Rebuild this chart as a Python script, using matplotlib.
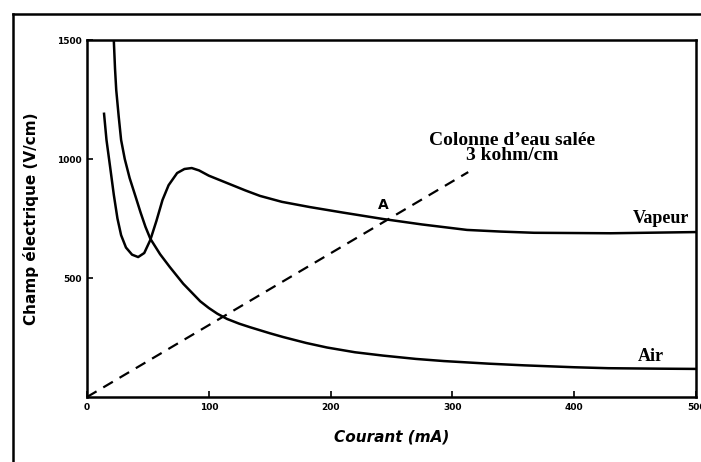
import matplotlib
matplotlib.use("Agg")
import matplotlib.pyplot as plt
from matplotlib.lines import Line2D

# Data
air_I = [22, 23, 24, 26, 28, 31, 35, 40, 44, 48, 52, 60, 68, 79, 93, 100, 107, 115, 125, 134,
         150, 161, 180, 197, 220, 243, 270, 293, 330, 359, 400, 428, 470, 500]
air_E = [1500, 1380, 1290, 1180, 1080, 1000, 920, 840, 775, 715, 665, 600, 546, 476, 402,
         374, 350, 328, 308, 293, 268, 252, 227, 208, 188, 174, 160, 151, 140, 133, 125, 121,
         119, 118]

vap_I = [14, 16, 19, 22, 25, 28, 32, 37, 42, 47, 52, 57, 62, 67, 74, 80, 86, 92, 100, 115,
         130, 142, 160, 183, 210, 243, 275, 312, 340, 367, 430, 500]
vap_E = [1190, 1080, 966, 850, 750, 680, 628, 598, 588, 605, 660, 740, 828, 890, 941, 958,
         962, 952, 930, 899, 868, 845, 820, 798, 775, 748, 725, 702, 695, 690, 688, 693]

col_I = [0, 313]
col_E = [0, 945]

x_ticks = [0, 100, 200, 300, 400, 500]
y_ticks = [500, 1000, 1500]

fig = plt.figure(figsize=(7.01, 4.62), dpi=100)
ax = fig.add_axes([87/701, 1 - 397/462, (696-87)/701, (397-40)/462])

lw = 1.8
ax.plot(air_I, air_E, color="black", lw=lw, solid_joinstyle="round")
ax.plot(vap_I, vap_E, color="black", lw=lw, solid_joinstyle="round")
ax.plot(col_I, col_E, color="black", lw=1.6, dashes=(5, 3.5))

ax.set_xlim(0, 500)
ax.set_ylim(0, 1500)
ax.set_xticks(x_ticks)
ax.set_xticklabels([str(v) for v in x_ticks], fontsize=6.5, fontweight="bold")
ax.set_yticks(y_ticks)
ax.set_yticklabels([str(v) for v in y_ticks], fontsize=6.5, fontweight="bold")
ax.tick_params(axis="both", direction="in", length=4, width=1.2, pad=4)
for s in ax.spines.values():
    s.set_linewidth(1.8)

ax.set_xlabel("Courant (mA)", fontsize=11, fontweight="bold", fontstyle="italic", labelpad=13)
ax.set_ylabel("Champ électrique (V/cm)", fontsize=11, fontweight="bold", labelpad=13)

serif = "Liberation Serif"
ax.text(349, 1046, "Colonne d\u2019eau salée\n3 kohm/cm", ha="center", va="center",
        fontsize=14, fontweight="bold", family=serif, linespacing=0.9)
ax.text(243, 778, "A", ha="center", va="bottom", fontsize=10, fontweight="bold")
ax.text(494, 715, "Vapeur", ha="right", va="bottom", fontsize=13, fontweight="bold", family=serif)
ax.text(474, 135, "Air", ha="right", va="bottom", fontsize=13, fontweight="bold", family=serif)

# outer frame (cut at right/bottom)
H = 462.0
W = 701.0
fig.add_artist(Line2D([13/W, 1.0], [1 - 14/H, 1 - 14/H], color="black", lw=1.8, transform=fig.transFigure))
fig.add_artist(Line2D([13/W, 13/W], [0.0, 1 - 14/H], color="black", lw=1.8, transform=fig.transFigure))

fig.savefig("out.png", dpi=100)
